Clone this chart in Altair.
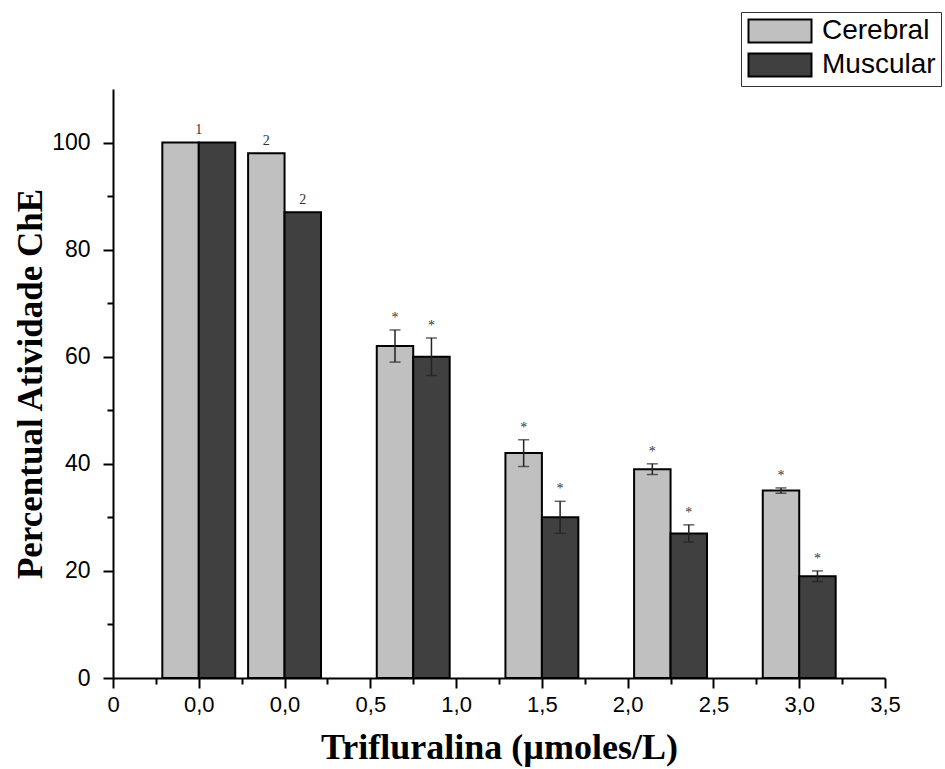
import json
import altair as alt
import pandas as pd

# ---- data ----
tick_labels = ["0", "0,0", "0,0", "0,5", "1,0", "1,5", "2,0", "2,5", "3,0", "3,5"]
group_pos = [1, 2, 3.5, 5, 6.5, 8]          # group centres on the x axis (tick index units)
cerebral = [100, 98, 62, 42, 39, 35]
cerebral_err = [0, 0, 3, 2.5, 1, 0.5]
muscular = [100, 87, 60, 30, 27, 19]
muscular_err = [0, 0, 3.5, 3, 1.6, 1]
cerebral_marks = ["", "2", "*", "*", "*", "*"]
muscular_marks = ["", "2", "*", "*", "*", "*"]
group_marks = ["1", "", "", "", "", ""]       # label over the whole group
series = ["Cerebral", "Muscular"]
colors = ["#c0c0c0", "#404040"]

BAR_W = 0.425  # bar width in x units

rows = []
for i, g in enumerate(group_pos):
    for s, vals, errs, marks, off in [
        ("Cerebral", cerebral, cerebral_err, cerebral_marks, -1),
        ("Muscular", muscular, muscular_err, muscular_marks, 1),
    ]:
        x0 = g if off > 0 else g - BAR_W
        x1 = g + BAR_W if off > 0 else g
        v, e = vals[i], errs[i]
        rows.append(dict(series=s, x0=x0, x1=x1, xc=(x0 + x1) / 2, value=v,
                         err=e, lo=v - e, hi=v + e, mark=marks[i]))
df = pd.DataFrame(rows)

grp = pd.DataFrame(dict(x=group_pos, y=[max(a, b) for a, b in zip(cerebral, muscular)],
                        mark=group_marks))

label_expr = "datum.value % 1 === 0 ? " + json.dumps(tick_labels) + "[datum.value] : ''"
xvals = [i * 0.5 for i in range(19)]

x_scale = alt.Scale(domain=[0, 9], nice=False, zero=False)
y_scale = alt.Scale(domain=[0, 110], nice=False)

x_axis = alt.Axis(
    values=xvals, labelExpr=label_expr, labelOverlap=False, labelFlush=False,
    grid=False, domainColor="black", domainWidth=2, tickColor="black", tickWidth=2,
    tickSize={"condition": {"test": "datum.value % 1 === 0", "value": 10}, "value": 6},
    labelFont="Liberation Sans", labelFontSize=22, labelColor="black", labelPadding=6,
    title="Trifluralina (µmoles/L)", titleFont="Liberation Serif", titleFontSize=36,
    titleFontWeight="bold", titleColor="black", titlePadding=15,
)
y_axis = alt.Axis(
    values=list(range(0, 101, 10)),
    labelExpr="datum.value % 20 === 0 ? datum.value : ''",
    grid=False, domainColor="black", domainWidth=2, tickColor="black", tickWidth=2,
    tickSize={"condition": {"test": "datum.value % 20 === 0", "value": 10}, "value": 6},
    labelFont="Liberation Sans", labelFontSize=23, labelColor="black", labelPadding=13,
    title="Percentual Atividade ChE", titleFont="Liberation Serif", titleFontSize=35,
    titleFontWeight="bold", titleColor="black", titlePadding=3,
)

legend = alt.Legend(
    title=None, orient="none", legendX=628, legendY=-77,
    symbolType="M-1,-1H4.478V1H-1Z", symbolSize=529,
    symbolStrokeColor="black", symbolStrokeWidth=2, symbolOpacity=1,
    labelFont="Liberation Sans", labelFontSize=28, labelColor="black",
    labelOffset=48, labelLimit=0, rowPadding=2, padding=5,
    strokeColor="#333", fillColor="white",
)

base = alt.Chart(df)

bars = base.mark_bar(stroke="black", strokeWidth=2, opacity=1).encode(
    x=alt.X("x0:Q", scale=x_scale, axis=x_axis),
    x2="x1:Q",
    y=alt.Y("value:Q", scale=y_scale, axis=y_axis),
    y2=alt.datum(0),
    fill=alt.Fill("series:N", scale=alt.Scale(domain=series, range=colors), legend=legend),
)

errs = base.transform_filter("datum.err > 0")
err_line = errs.mark_rule(color="#222", strokeWidth=1.5).encode(
    x="xc:Q", y="lo:Q", y2="hi:Q")
cap_hi = errs.mark_tick(orient="horizontal", size=11, thickness=1.5, color="#222").encode(
    x="xc:Q", y="hi:Q")
cap_lo = errs.mark_tick(orient="horizontal", size=11, thickness=1.5, color="#222").encode(
    x="xc:Q", y="lo:Q")

bar_text = base.mark_text(font="Liberation Serif", fontSize=14, color="#333",
                          baseline="middle", dy=-12).encode(
    x="xc:Q", y="hi:Q", text="mark:N")
grp_text = alt.Chart(grp).mark_text(font="Liberation Serif", fontSize=14, color="#333",
                                    baseline="middle", dy=-13).encode(
    x="x:Q", y="y:Q", text="mark:N")

chart = alt.layer(bars, err_line, cap_hi, cap_lo, bar_text, grp_text).properties(
    width=772, height=589,
    background="white",
    padding={"left": 113, "top": 89, "right": 60, "bottom": 91},
    autosize=alt.AutoSizeParams(type="none"),
).configure_view(stroke=None)

chart.save("out.html", embed_options={"renderer": "svg", "actions": False})
